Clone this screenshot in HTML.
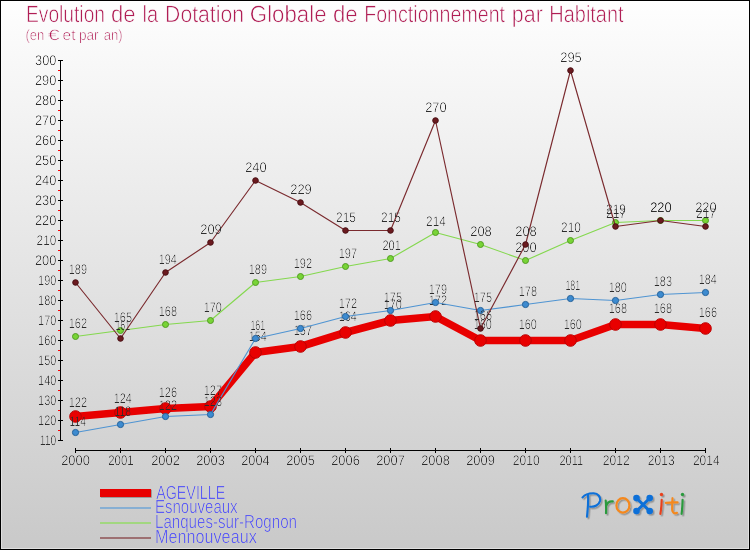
<!DOCTYPE html>
<html><head><meta charset="utf-8"><title>Evolution de la Dotation Globale de Fonctionnement par Habitant</title>
<style>
html,body{margin:0;padding:0;background:#fff;}
body{width:750px;height:550px;overflow:hidden;font-family:"Liberation Sans",sans-serif;}
svg{display:block;}
text{font-family:"Liberation Sans",sans-serif;text-rendering:geometricPrecision;}
</style></head><body>
<svg width="750" height="550" viewBox="0 0 750 550">
<defs>
<linearGradient id="bg" x1="0" y1="0" x2="0" y2="1"><stop offset="0" stop-color="#fefefe"/><stop offset="1" stop-color="#c9c9c9"/></linearGradient>
<linearGradient id="bg2" x1="0" y1="0" x2="0" y2="1"><stop offset="0" stop-color="#ffffff"/><stop offset="1" stop-color="#dfdfdf"/></linearGradient>
<filter id="sh" x="570" y="485" width="125" height="40" filterUnits="userSpaceOnUse"><feDropShadow dx="1.5" dy="1.5" stdDeviation="0.45" flood-color="#000" flood-opacity="0.28"/></filter>
<filter id="thin" x="0" y="0" width="750" height="550" filterUnits="userSpaceOnUse" color-interpolation-filters="sRGB"><feComponentTransfer><feFuncA type="gamma" amplitude="1" exponent="2.3" offset="0"/></feComponentTransfer></filter>
</defs>
<rect x="0" y="0" width="750" height="550" fill="#000"/>
<rect x="1" y="1" width="748" height="548" fill="url(#bg2)"/>
<rect x="2" y="2" width="746" height="546" fill="url(#bg)"/>

<g fill="#b01e55" font-size="23.5px" stroke="#fdfdfd" stroke-width="0.5" filter="url(#thin)">
<text x="26.0" y="21.7" textLength="79.0" lengthAdjust="spacingAndGlyphs">Evolution</text>
<text x="111.0" y="21.7" textLength="24.6" lengthAdjust="spacingAndGlyphs">de</text>
<text x="142.6" y="21.7" textLength="15.7" lengthAdjust="spacingAndGlyphs">la</text>
<text x="165.1" y="21.7" textLength="78.9" lengthAdjust="spacingAndGlyphs">Dotation</text>
<text x="249.8" y="21.7" textLength="76.8" lengthAdjust="spacingAndGlyphs">Globale</text>
<text x="333.0" y="21.7" textLength="24.7" lengthAdjust="spacingAndGlyphs">de</text>
<text x="364.2" y="21.7" textLength="140.9" lengthAdjust="spacingAndGlyphs">Fonctionnement</text>
<text x="511.8" y="21.7" textLength="31.0" lengthAdjust="spacingAndGlyphs">par</text>
<text x="549.3" y="21.7" textLength="74.3" lengthAdjust="spacingAndGlyphs">Habitant</text>
</g>
<g fill="#b01e55" font-size="15px" stroke="#fbfbfb" stroke-width="0.4" filter="url(#thin)">
<text x="25.4" y="39.6" textLength="18.9" lengthAdjust="spacingAndGlyphs">(en</text>
<text x="47.7" y="39.6" textLength="11.9" lengthAdjust="spacingAndGlyphs">€</text>
<text x="62.6" y="39.6" textLength="12.9" lengthAdjust="spacingAndGlyphs">et</text>
<text x="78.9" y="39.6" textLength="19.7" lengthAdjust="spacingAndGlyphs">par</text>
<text x="103.7" y="39.6" textLength="18.9" lengthAdjust="spacingAndGlyphs">an)</text>
</g>
<g shape-rendering="crispEdges">
<rect x="60" y="60" width="1" height="381" fill="#000"/>
<rect x="58" y="440" width="5" height="1" fill="#000"/>
<rect x="58" y="430" width="2" height="1" fill="#f00"/>
<rect x="58" y="420" width="5" height="1" fill="#000"/>
<rect x="58" y="410" width="2" height="1" fill="#f00"/>
<rect x="58" y="400" width="5" height="1" fill="#000"/>
<rect x="58" y="390" width="2" height="1" fill="#f00"/>
<rect x="58" y="380" width="5" height="1" fill="#000"/>
<rect x="58" y="370" width="2" height="1" fill="#f00"/>
<rect x="58" y="360" width="5" height="1" fill="#000"/>
<rect x="58" y="350" width="2" height="1" fill="#f00"/>
<rect x="58" y="340" width="5" height="1" fill="#000"/>
<rect x="58" y="330" width="2" height="1" fill="#f00"/>
<rect x="58" y="320" width="5" height="1" fill="#000"/>
<rect x="58" y="310" width="2" height="1" fill="#f00"/>
<rect x="58" y="300" width="5" height="1" fill="#000"/>
<rect x="58" y="290" width="2" height="1" fill="#f00"/>
<rect x="58" y="280" width="5" height="1" fill="#000"/>
<rect x="58" y="270" width="2" height="1" fill="#f00"/>
<rect x="58" y="260" width="5" height="1" fill="#000"/>
<rect x="58" y="250" width="2" height="1" fill="#f00"/>
<rect x="58" y="240" width="5" height="1" fill="#000"/>
<rect x="58" y="230" width="2" height="1" fill="#f00"/>
<rect x="58" y="220" width="5" height="1" fill="#000"/>
<rect x="58" y="210" width="2" height="1" fill="#f00"/>
<rect x="58" y="200" width="5" height="1" fill="#000"/>
<rect x="58" y="190" width="2" height="1" fill="#f00"/>
<rect x="58" y="180" width="5" height="1" fill="#000"/>
<rect x="58" y="170" width="2" height="1" fill="#f00"/>
<rect x="58" y="160" width="5" height="1" fill="#000"/>
<rect x="58" y="150" width="2" height="1" fill="#f00"/>
<rect x="58" y="140" width="5" height="1" fill="#000"/>
<rect x="58" y="130" width="2" height="1" fill="#f00"/>
<rect x="58" y="120" width="5" height="1" fill="#000"/>
<rect x="58" y="110" width="2" height="1" fill="#f00"/>
<rect x="58" y="100" width="5" height="1" fill="#000"/>
<rect x="58" y="90" width="2" height="1" fill="#f00"/>
<rect x="58" y="80" width="5" height="1" fill="#000"/>
<rect x="58" y="70" width="2" height="1" fill="#f00"/>
<rect x="58" y="60" width="5" height="1" fill="#000"/>
<rect x="75" y="450" width="631" height="1" fill="#000"/>
<rect x="75" y="448" width="1" height="5" fill="#000"/>
<rect x="120" y="448" width="1" height="5" fill="#000"/>
<rect x="165" y="448" width="1" height="5" fill="#000"/>
<rect x="210" y="448" width="1" height="5" fill="#000"/>
<rect x="255" y="448" width="1" height="5" fill="#000"/>
<rect x="300" y="448" width="1" height="5" fill="#000"/>
<rect x="345" y="448" width="1" height="5" fill="#000"/>
<rect x="390" y="448" width="1" height="5" fill="#000"/>
<rect x="435" y="448" width="1" height="5" fill="#000"/>
<rect x="480" y="448" width="1" height="5" fill="#000"/>
<rect x="525" y="448" width="1" height="5" fill="#000"/>
<rect x="570" y="448" width="1" height="5" fill="#000"/>
<rect x="615" y="448" width="1" height="5" fill="#000"/>
<rect x="660" y="448" width="1" height="5" fill="#000"/>
<rect x="705" y="448" width="1" height="5" fill="#000"/>
</g>
<g fill="#2c2c2c" font-size="14px" filter="url(#thin)">
<text x="39.8" y="445.3" textLength="16.5" lengthAdjust="spacingAndGlyphs">110</text>
<text x="38.1" y="425.3" textLength="18.2" lengthAdjust="spacingAndGlyphs">120</text>
<text x="38.1" y="405.3" textLength="18.2" lengthAdjust="spacingAndGlyphs">130</text>
<text x="38.1" y="385.3" textLength="18.2" lengthAdjust="spacingAndGlyphs">140</text>
<text x="38.1" y="365.3" textLength="18.2" lengthAdjust="spacingAndGlyphs">150</text>
<text x="38.1" y="345.3" textLength="18.2" lengthAdjust="spacingAndGlyphs">160</text>
<text x="38.1" y="325.3" textLength="18.2" lengthAdjust="spacingAndGlyphs">170</text>
<text x="38.1" y="305.3" textLength="18.2" lengthAdjust="spacingAndGlyphs">180</text>
<text x="38.1" y="285.3" textLength="18.2" lengthAdjust="spacingAndGlyphs">190</text>
<text x="34.9" y="265.3" textLength="21.5" lengthAdjust="spacingAndGlyphs">200</text>
<text x="36.6" y="245.3" textLength="19.7" lengthAdjust="spacingAndGlyphs">210</text>
<text x="34.9" y="225.3" textLength="21.5" lengthAdjust="spacingAndGlyphs">220</text>
<text x="34.9" y="205.3" textLength="21.5" lengthAdjust="spacingAndGlyphs">230</text>
<text x="34.9" y="185.3" textLength="21.5" lengthAdjust="spacingAndGlyphs">240</text>
<text x="34.9" y="165.3" textLength="21.5" lengthAdjust="spacingAndGlyphs">250</text>
<text x="34.9" y="145.3" textLength="21.5" lengthAdjust="spacingAndGlyphs">260</text>
<text x="34.9" y="125.3" textLength="21.5" lengthAdjust="spacingAndGlyphs">270</text>
<text x="34.9" y="105.3" textLength="21.5" lengthAdjust="spacingAndGlyphs">280</text>
<text x="34.9" y="85.3" textLength="21.5" lengthAdjust="spacingAndGlyphs">290</text>
<text x="35.0" y="65.3" textLength="21.4" lengthAdjust="spacingAndGlyphs">300</text>
<text x="61.2" y="465.2" textLength="28.6" lengthAdjust="spacingAndGlyphs">2000</text>
<text x="108.3" y="465.2" textLength="25.3" lengthAdjust="spacingAndGlyphs">2001</text>
<text x="151.2" y="465.2" textLength="28.7" lengthAdjust="spacingAndGlyphs">2002</text>
<text x="196.2" y="465.2" textLength="28.6" lengthAdjust="spacingAndGlyphs">2003</text>
<text x="241.2" y="465.2" textLength="28.4" lengthAdjust="spacingAndGlyphs">2004</text>
<text x="286.2" y="465.2" textLength="28.6" lengthAdjust="spacingAndGlyphs">2005</text>
<text x="331.2" y="465.2" textLength="28.6" lengthAdjust="spacingAndGlyphs">2006</text>
<text x="376.2" y="465.2" textLength="28.7" lengthAdjust="spacingAndGlyphs">2007</text>
<text x="421.2" y="465.2" textLength="28.6" lengthAdjust="spacingAndGlyphs">2008</text>
<text x="466.2" y="465.2" textLength="28.7" lengthAdjust="spacingAndGlyphs">2009</text>
<text x="512.8" y="465.2" textLength="26.8" lengthAdjust="spacingAndGlyphs">2010</text>
<text x="559.5" y="465.2" textLength="23.6" lengthAdjust="spacingAndGlyphs">2011</text>
<text x="602.8" y="465.2" textLength="26.9" lengthAdjust="spacingAndGlyphs">2012</text>
<text x="647.8" y="465.2" textLength="26.8" lengthAdjust="spacingAndGlyphs">2013</text>
<text x="692.9" y="465.2" textLength="26.7" lengthAdjust="spacingAndGlyphs">2014</text>
</g>
<polyline points="75.5,416.5 120.5,412.5 165.5,408.5 210.5,406.5 255.5,352.5 300.5,346.5 345.5,332.5 390.5,320.5 435.5,316.5 480.5,340.5 525.5,340.5 570.5,340.5 615.5,324.5 660.5,324.5 705.5,328.5" fill="none" stroke="#e80000" stroke-width="7.6" stroke-linejoin="round" stroke-linecap="round"/>
<g fill="#e80000" stroke="#bb0000" stroke-width="1">
<circle cx="75.5" cy="416.5" r="5.8"/>
<circle cx="120.5" cy="412.5" r="5.8"/>
<circle cx="165.5" cy="408.5" r="5.8"/>
<circle cx="210.5" cy="406.5" r="5.8"/>
<circle cx="255.5" cy="352.5" r="5.8"/>
<circle cx="300.5" cy="346.5" r="5.8"/>
<circle cx="345.5" cy="332.5" r="5.8"/>
<circle cx="390.5" cy="320.5" r="5.8"/>
<circle cx="435.5" cy="316.5" r="5.8"/>
<circle cx="480.5" cy="340.5" r="5.8"/>
<circle cx="525.5" cy="340.5" r="5.8"/>
<circle cx="570.5" cy="340.5" r="5.8"/>
<circle cx="615.5" cy="324.5" r="5.8"/>
<circle cx="660.5" cy="324.5" r="5.8"/>
<circle cx="705.5" cy="328.5" r="5.8"/>
</g>
<g fill="#2c2c2c" font-size="14px" filter="url(#thin)">
<text x="68.7" y="406.9" textLength="18.4" lengthAdjust="spacingAndGlyphs">122</text>
<text x="113.7" y="402.9" textLength="18.1" lengthAdjust="spacingAndGlyphs">124</text>
<text x="158.7" y="397.0" textLength="18.3" lengthAdjust="spacingAndGlyphs">126</text>
<text x="203.7" y="395.0" textLength="18.4" lengthAdjust="spacingAndGlyphs">127</text>
<text x="248.7" y="341.0" textLength="18.1" lengthAdjust="spacingAndGlyphs">154</text>
<text x="293.7" y="335.0" textLength="18.4" lengthAdjust="spacingAndGlyphs">157</text>
<text x="338.7" y="321.0" textLength="18.1" lengthAdjust="spacingAndGlyphs">164</text>
<text x="383.7" y="309.0" textLength="18.2" lengthAdjust="spacingAndGlyphs">170</text>
<text x="428.7" y="305.0" textLength="18.4" lengthAdjust="spacingAndGlyphs">172</text>
<text x="473.7" y="329.0" textLength="18.2" lengthAdjust="spacingAndGlyphs">160</text>
<text x="518.7" y="329.0" textLength="18.2" lengthAdjust="spacingAndGlyphs">160</text>
<text x="563.7" y="329.0" textLength="18.2" lengthAdjust="spacingAndGlyphs">160</text>
<text x="608.7" y="313.0" textLength="18.3" lengthAdjust="spacingAndGlyphs">168</text>
<text x="653.7" y="313.0" textLength="18.3" lengthAdjust="spacingAndGlyphs">168</text>
<text x="698.7" y="317.0" textLength="18.3" lengthAdjust="spacingAndGlyphs">166</text>
</g>
<polyline points="75.5,432.5 120.5,424.5 165.5,416.5 210.5,414.5 255.5,338.5 300.5,328.5 345.5,316.5 390.5,310.5 435.5,302.5 480.5,310.5 525.5,304.5 570.5,298.5 615.5,300.5 660.5,294.5 705.5,292.5" fill="none" stroke="#4f94d2" stroke-width="1.15" stroke-linejoin="round" stroke-linecap="round"/>
<g fill="#3d8bd0" stroke="#27639a" stroke-width="1">
<circle cx="75.5" cy="432.5" r="3.1"/>
<circle cx="120.5" cy="424.5" r="3.1"/>
<circle cx="165.5" cy="416.5" r="3.1"/>
<circle cx="210.5" cy="414.5" r="3.1"/>
<circle cx="255.5" cy="338.5" r="3.1"/>
<circle cx="300.5" cy="328.5" r="3.1"/>
<circle cx="345.5" cy="316.5" r="3.1"/>
<circle cx="390.5" cy="310.5" r="3.1"/>
<circle cx="435.5" cy="302.5" r="3.1"/>
<circle cx="480.5" cy="310.5" r="3.1"/>
<circle cx="525.5" cy="304.5" r="3.1"/>
<circle cx="570.5" cy="298.5" r="3.1"/>
<circle cx="615.5" cy="300.5" r="3.1"/>
<circle cx="660.5" cy="294.5" r="3.1"/>
<circle cx="705.5" cy="292.5" r="3.1"/>
</g>
<g fill="#2c2c2c" font-size="14px" filter="url(#thin)">
<text x="69.6" y="425.9" textLength="16.4" lengthAdjust="spacingAndGlyphs">114</text>
<text x="114.6" y="416.0" textLength="16.5" lengthAdjust="spacingAndGlyphs">118</text>
<text x="158.7" y="409.9" textLength="18.4" lengthAdjust="spacingAndGlyphs">122</text>
<text x="203.7" y="406.0" textLength="18.3" lengthAdjust="spacingAndGlyphs">123</text>
<text x="250.4" y="330.0" textLength="14.9" lengthAdjust="spacingAndGlyphs">161</text>
<text x="293.7" y="320.0" textLength="18.3" lengthAdjust="spacingAndGlyphs">166</text>
<text x="338.7" y="308.0" textLength="18.4" lengthAdjust="spacingAndGlyphs">172</text>
<text x="383.7" y="302.0" textLength="18.3" lengthAdjust="spacingAndGlyphs">175</text>
<text x="428.7" y="294.0" textLength="18.3" lengthAdjust="spacingAndGlyphs">179</text>
<text x="473.7" y="302.0" textLength="18.3" lengthAdjust="spacingAndGlyphs">175</text>
<text x="518.7" y="296.0" textLength="18.3" lengthAdjust="spacingAndGlyphs">178</text>
<text x="565.4" y="290.0" textLength="14.9" lengthAdjust="spacingAndGlyphs">181</text>
<text x="608.7" y="292.0" textLength="18.2" lengthAdjust="spacingAndGlyphs">180</text>
<text x="653.7" y="286.0" textLength="18.3" lengthAdjust="spacingAndGlyphs">183</text>
<text x="698.7" y="284.0" textLength="18.1" lengthAdjust="spacingAndGlyphs">184</text>
</g>
<polyline points="75.5,336.5 120.5,330.5 165.5,324.5 210.5,320.5 255.5,282.5 300.5,276.5 345.5,266.5 390.5,258.5 435.5,232.5 480.5,244.5 525.5,260.5 570.5,240.5 615.5,222.5 660.5,220.5 705.5,220.5" fill="none" stroke="#84d84e" stroke-width="1.15" stroke-linejoin="round" stroke-linecap="round"/>
<g fill="#78d436" stroke="#529c24" stroke-width="1">
<circle cx="75.5" cy="336.5" r="3.0"/>
<circle cx="120.5" cy="330.5" r="3.0"/>
<circle cx="165.5" cy="324.5" r="3.0"/>
<circle cx="210.5" cy="320.5" r="3.0"/>
<circle cx="255.5" cy="282.5" r="3.0"/>
<circle cx="300.5" cy="276.5" r="3.0"/>
<circle cx="345.5" cy="266.5" r="3.0"/>
<circle cx="390.5" cy="258.5" r="3.0"/>
<circle cx="435.5" cy="232.5" r="3.0"/>
<circle cx="480.5" cy="244.5" r="3.0"/>
<circle cx="525.5" cy="260.5" r="3.0"/>
<circle cx="570.5" cy="240.5" r="3.0"/>
<circle cx="615.5" cy="222.5" r="3.0"/>
<circle cx="660.5" cy="220.5" r="3.0"/>
<circle cx="705.5" cy="220.5" r="3.0"/>
</g>
<g fill="#2c2c2c" font-size="14px" filter="url(#thin)">
<text x="68.7" y="328.0" textLength="18.4" lengthAdjust="spacingAndGlyphs">162</text>
<text x="113.7" y="322.0" textLength="18.3" lengthAdjust="spacingAndGlyphs">165</text>
<text x="158.7" y="316.0" textLength="18.3" lengthAdjust="spacingAndGlyphs">168</text>
<text x="203.7" y="312.0" textLength="18.2" lengthAdjust="spacingAndGlyphs">170</text>
<text x="248.7" y="274.0" textLength="18.3" lengthAdjust="spacingAndGlyphs">189</text>
<text x="293.7" y="268.0" textLength="18.4" lengthAdjust="spacingAndGlyphs">192</text>
<text x="338.7" y="258.0" textLength="18.4" lengthAdjust="spacingAndGlyphs">197</text>
<text x="382.5" y="250.0" textLength="18.3" lengthAdjust="spacingAndGlyphs">201</text>
<text x="426.1" y="225.9" textLength="19.6" lengthAdjust="spacingAndGlyphs">214</text>
<text x="470.2" y="236.0" textLength="21.6" lengthAdjust="spacingAndGlyphs">208</text>
<text x="515.2" y="252.0" textLength="21.5" lengthAdjust="spacingAndGlyphs">200</text>
<text x="561.1" y="232.0" textLength="19.7" lengthAdjust="spacingAndGlyphs">210</text>
<text x="606.1" y="214.0" textLength="19.8" lengthAdjust="spacingAndGlyphs">219</text>
<text x="650.2" y="212.0" textLength="21.5" lengthAdjust="spacingAndGlyphs">220</text>
<text x="695.2" y="212.0" textLength="21.5" lengthAdjust="spacingAndGlyphs">220</text>
</g>
<polyline points="75.5,282.5 120.5,338.5 165.5,272.5 210.5,242.5 255.5,180.5 300.5,202.5 345.5,230.5 390.5,230.5 435.5,120.5 480.5,328.5 525.5,244.5 570.5,70.5 615.5,226.5 660.5,220.5 705.5,226.5" fill="none" stroke="#7a2a2e" stroke-width="1.15" stroke-linejoin="round" stroke-linecap="round"/>
<g fill="#6b1a1f" stroke="#4a1014" stroke-width="1">
<circle cx="75.5" cy="282.5" r="2.8"/>
<circle cx="120.5" cy="338.5" r="2.8"/>
<circle cx="165.5" cy="272.5" r="2.8"/>
<circle cx="210.5" cy="242.5" r="2.8"/>
<circle cx="255.5" cy="180.5" r="2.8"/>
<circle cx="300.5" cy="202.5" r="2.8"/>
<circle cx="345.5" cy="230.5" r="2.8"/>
<circle cx="390.5" cy="230.5" r="2.8"/>
<circle cx="435.5" cy="120.5" r="2.8"/>
<circle cx="480.5" cy="328.5" r="2.8"/>
<circle cx="525.5" cy="244.5" r="2.8"/>
<circle cx="570.5" cy="70.5" r="2.8"/>
<circle cx="615.5" cy="226.5" r="2.8"/>
<circle cx="660.5" cy="220.5" r="2.8"/>
<circle cx="705.5" cy="226.5" r="2.8"/>
</g>
<g fill="#2c2c2c" font-size="14px" filter="url(#thin)">
<text x="68.7" y="274.0" textLength="18.3" lengthAdjust="spacingAndGlyphs">189</text>
<text x="115.4" y="330.0" textLength="14.9" lengthAdjust="spacingAndGlyphs">161</text>
<text x="158.7" y="264.0" textLength="18.1" lengthAdjust="spacingAndGlyphs">194</text>
<text x="200.2" y="234.0" textLength="21.6" lengthAdjust="spacingAndGlyphs">209</text>
<text x="245.2" y="172.0" textLength="21.5" lengthAdjust="spacingAndGlyphs">240</text>
<text x="290.2" y="194.0" textLength="21.6" lengthAdjust="spacingAndGlyphs">229</text>
<text x="336.1" y="222.0" textLength="19.8" lengthAdjust="spacingAndGlyphs">215</text>
<text x="381.1" y="222.0" textLength="19.8" lengthAdjust="spacingAndGlyphs">215</text>
<text x="425.2" y="112.0" textLength="21.5" lengthAdjust="spacingAndGlyphs">270</text>
<text x="473.7" y="320.0" textLength="18.3" lengthAdjust="spacingAndGlyphs">166</text>
<text x="515.2" y="236.0" textLength="21.6" lengthAdjust="spacingAndGlyphs">208</text>
<text x="560.2" y="62.0" textLength="21.6" lengthAdjust="spacingAndGlyphs">295</text>
<text x="606.1" y="218.0" textLength="19.9" lengthAdjust="spacingAndGlyphs">217</text>
<text x="650.2" y="212.0" textLength="21.5" lengthAdjust="spacingAndGlyphs">220</text>
<text x="696.1" y="218.0" textLength="19.9" lengthAdjust="spacingAndGlyphs">217</text>
</g>
<rect x="100.7" y="489.7" width="51" height="8" fill="#666" opacity="0.7"/>
<rect x="100" y="489" width="51" height="8" fill="#e80000"/>
<rect x="100" y="507.3" width="51" height="1.4" fill="#6aa3d6"/>
<rect x="100" y="522.3" width="51" height="1.4" fill="#90dc60"/>
<rect x="100" y="537.3" width="51" height="1.4" fill="#8a4a4e"/>
<g fill="#5c5cf5" font-size="19px" filter="url(#thin)">
<text x="156.2" y="498.7" textLength="69.1" lengthAdjust="spacingAndGlyphs">AGEVILLE</text>
<text x="155.0" y="513.0" textLength="82.6" lengthAdjust="spacingAndGlyphs">Esnouveaux</text>
<text x="155.0" y="527.9" textLength="142.0" lengthAdjust="spacingAndGlyphs">Lanques-sur-Rognon</text>
<text x="154.9" y="543.1" textLength="101.9" lengthAdjust="spacingAndGlyphs">Mennouveaux</text>
</g>
<g filter="url(#sh)" fill="none" stroke-width="2.15" stroke-linecap="round" stroke-linejoin="round">
<path stroke="#0b6fd8" d="M582.6 497.4 C585.2 494.2 589.6 493.2 593.6 493.3 C598.2 493.6 600.8 497 600 501 C599 505 594.6 507.2 590.2 506.7 M588 494.6 C588.5 502 587.8 509.5 587 516.6"/>
<path stroke="#2a9a3e" d="M605.7 500.6 C606.2 505 606.2 509 606 513.2 M606.1 506.2 C607 503 609.6 501 612.8 501.4"/>
<ellipse stroke="#f5881c" cx="622.9" cy="505.4" rx="6.5" ry="7.2"/>
<path stroke="#0b6fd8" stroke-width="3" d="M636.6 498.2 L649.6 511 M649.6 498.2 L636.6 511"/>
<g fill="#0b6fd8" stroke="none"><circle cx="636.5" cy="498.1" r="3.3"/><circle cx="649.7" cy="498.1" r="3.3"/><circle cx="636.5" cy="511" r="3.3"/><circle cx="649.7" cy="511" r="3.3"/></g>
<path stroke="#e8401a" d="M661.7 499.8 C661.6 504.5 661.2 509.5 660.4 513.8"/>
<circle fill="#e8401a" stroke="none" cx="661.5" cy="494.5" r="1.7"/>
<path stroke="#f5881c" d="M672.5 498.2 C672.4 502.5 672 507 672.2 510.2 C672.5 513 674.6 513.8 677 512.8 M665.8 502.9 C669.6 502.4 673.8 502.3 677.6 502.4"/>
<path stroke="#2a9a3e" d="M682.6 499.8 C682.5 504.5 682.2 509.5 681.6 513.8"/>
<circle fill="#2a9a3e" stroke="none" cx="682.5" cy="494.5" r="1.7"/>
</g>

</svg></body></html>
